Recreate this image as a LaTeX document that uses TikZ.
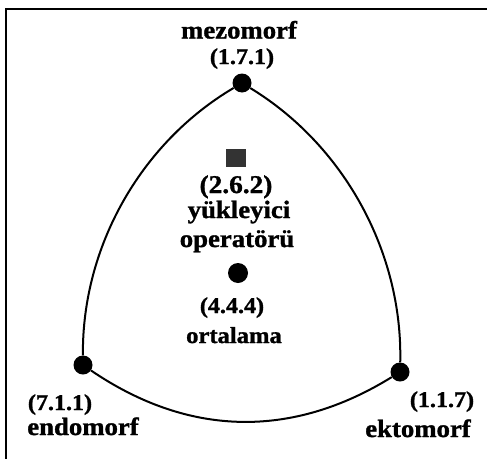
\documentclass[tikz,border=0pt]{standalone}
\usepackage{fontspec}
\setmainfont{Liberation Serif}[FakeStretch=1.07,BoldFeatures={FakeBold=1.2}]
\begin{document}
\begin{tikzpicture}[x=1pt,y=-1pt,
  dot/.style={circle,fill=black,inner sep=0pt,minimum size=19pt},
  lbl/.style={inner sep=0pt,anchor=base,font=\fontsize{25}{28}\selectfont\bfseries},
  num/.style={inner sep=0pt,anchor=base,font=\fontsize{22.5}{25}\selectfont\bfseries},
  side/.style={line width=2pt}]
\useasboundingbox (0,0) rectangle (487,458);
\draw[line width=2.2pt] (6,459) -- (6,9) -- (488,9);
% vertices
\node[dot] (T) at (242,83) {};
\node[dot] (L) at (83,365) {};
\node[dot] (R) at (400,372) {};
\draw[side] (T) to[bend right=30,looseness=0.9] (L);
\draw[side] (T) to[bend left=30,looseness=0.9] (R);
\draw[side] (L) to[bend right=33] (R);
% inner marks
\node[fill=black!80,inner sep=0pt,minimum width=20pt,minimum height=18pt] (sq) at (236,158) {};
\node[dot,minimum size=20pt] (avg) at (238,273) {};
% labels
\node[lbl] (mezo) at (239,38.5) {mezomorf};
\node[num] (mezon) at (242,64) {(1.7.1)};
\node[num,font=\fontsize{25.5}{28}\selectfont\bfseries] (yn) at (236,193) {(2.6.2)};
\node[lbl] (y1) at (239,218) {yükleyici};
\node[lbl] (y2) at (237,247) {operatörü};
\node[num] (on) at (232,313) {(4.4.4)};
\node[lbl,font=\fontsize{23}{26}\selectfont\bfseries] (ort) at (234,343) {ortalama};
\node[num] (endon) at (60,410) {(7.1.1)};
\node[lbl] (endo) at (83,435) {endomorf};
\node[num] (ekton) at (442,407) {(1.1.7)};
\node[lbl] (ekto) at (418,437) {ektomorf};
\end{tikzpicture}
\end{document}
